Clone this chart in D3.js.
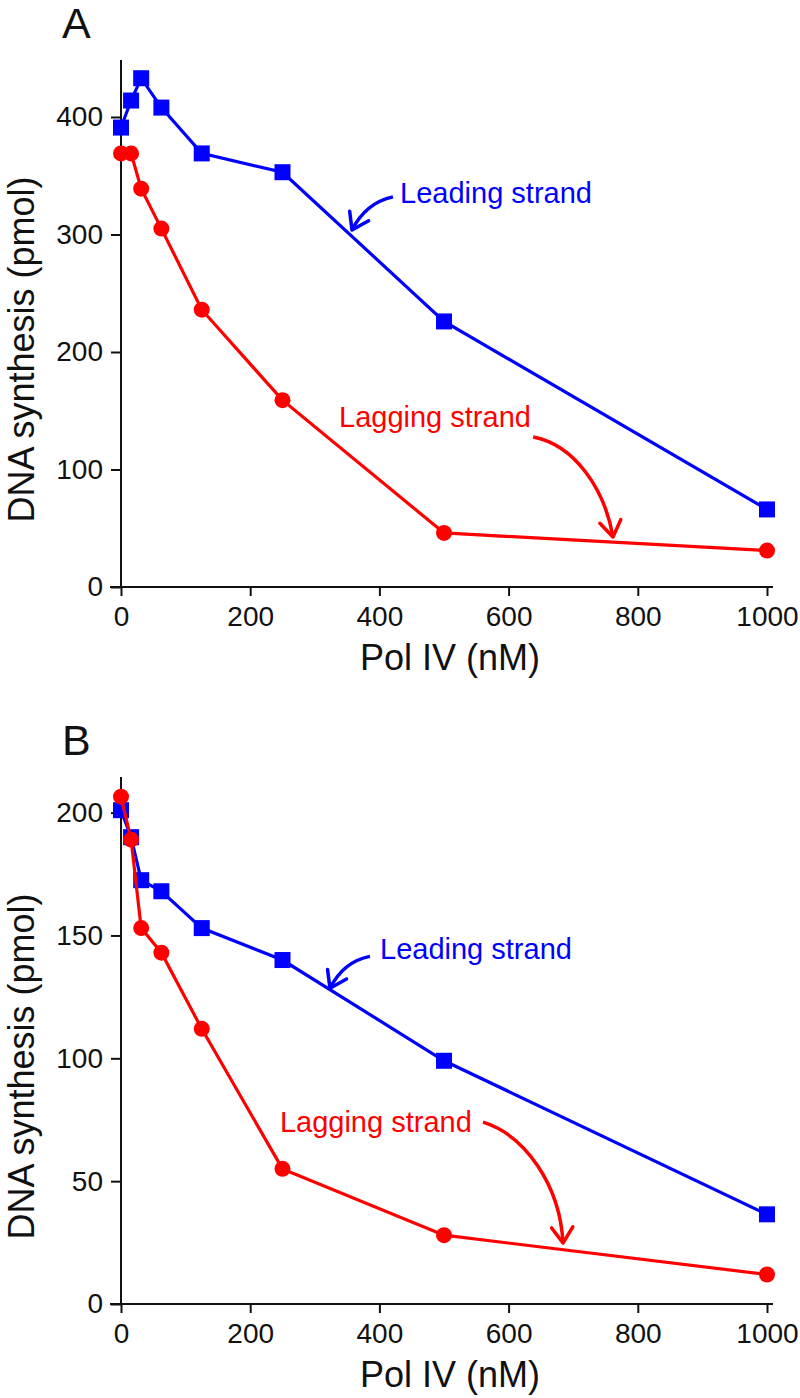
<!DOCTYPE html>
<html lang="en">
  <head>
    <meta charset="utf-8">
    <title>Pol IV titration</title>
    <style>
      body { margin: 0; background: white; }
      svg { display: block; font-family: "Liberation Sans", Arial, sans-serif; }
      .axis path.domain { display: none; }
      .axis line { stroke: #111; stroke-width: 2; }
      .axis text { font-family: "Liberation Sans", Arial, sans-serif; font-size: 28px; fill: #111; }
    </style>
    <script src="https://cdn.jsdelivr.net/npm/d3@7"></script>
  </head>
  <body>
    <svg id="chart" width="800" height="1398"></svg>
    <script>
// ---- data (Pol IV in nM, DNA synthesis in pmol) ----
var conc = [0, 15.6, 31.25, 62.5, 125, 250, 500, 1000];
var xTicks = [0, 200, 400, 600, 800, 1000];

var leadingA = [391, 414, 433, 408, 369, 353, 226, 66];
var laggingA = [369, 369, 339, 305, 236, 159, 46, 31];
var yTicksA = [0, 100, 200, 300, 400];

var leadingB = [201, 190, 172.5, 168, 153, 140, 99, 36.5];
var laggingB = [206.5, 189, 153, 143, 112, 55, 28, 12];
var yTicksB = [0, 50, 100, 150, 200];

// annotation anchors, in data units
var notesA = [
  {text: "Leading strand", color: "blue", at: [432, 327],
   path: [[421, 332], [379, 327], [357.6, 303.8]]},
  {text: "Lagging strand", color: "red", at: [337.5, 136],
   path: [[638, 127.7], [703, 121], [749, 82.6], [761.6, 42.6]]}
];
var notesB = [
  {text: "Leading strand", color: "blue", at: [401, 140.3],
   path: [[385.4, 141.5], [344.3, 139.4], [323.5, 128.5]]},
  {text: "Lagging strand", color: "red", at: [246, 70],
   path: [[560.4, 74], [625.4, 68.7], [679.6, 48.4], [684.2, 24.8]]}
];

var svg = d3.select("#chart");
var blue = "#0000ff", red = "#ff0000";

function panel(letter, top, bottom, yMax, yTicks, leading, lagging, notes) {
  var x = d3.scaleLinear().domain([0, 1000]).range([121, 767]);
  var y = d3.scaleLinear().domain([0, yMax]).range([bottom, top]);
  var g = svg.append("g");

  // axes lines
  g.append("line").attr("x1", x(0)).attr("x2", x(0)).attr("y1", top).attr("y2", bottom)
    .style("stroke", "#111").style("stroke-width", 2);
  g.append("line").attr("x1", 110).attr("x2", 773).attr("y1", bottom).attr("y2", bottom)
    .style("stroke", "#111").style("stroke-width", 2);

  g.append("g").attr("class", "axis").attr("transform", "translate(0," + bottom + ")")
    .call(d3.axisBottom(x).tickValues(xTicks).tickFormat(d3.format("d"))
      .tickSize(9).tickPadding(10).tickSizeOuter(0));
  g.append("g").attr("class", "axis").attr("transform", "translate(" + x(0) + ",0)")
    .call(d3.axisLeft(y).tickValues(yTicks).tickFormat(d3.format("d"))
      .tickSize(10).tickPadding(8).tickSizeOuter(0));

  g.append("text").text(letter).attr("x", 62).attr("y", top - 22)
    .style("font-size", "43px").style("fill", "#111");
  g.append("text").text("Pol IV (nM)").attr("x", 450).attr("y", bottom + 83)
    .attr("text-anchor", "middle").style("font-size", "36px").style("fill", "#111");
  g.append("text").text("DNA synthesis (pmol)")
    .attr("transform", "translate(34," + ((top + bottom) / 2 + 26) + ") rotate(-90)")
    .attr("text-anchor", "middle").style("font-size", "36px").style("fill", "#111");

  var line = d3.line().x(function(d) { return x(d[0]); }).y(function(d) { return y(d[1]); });

  // leading strand: squares
  var lead = d3.zip(conc, leading);
  g.append("path").datum(lead).attr("d", line)
    .style("fill", "none").style("stroke", blue).style("stroke-width", 3.2);
  g.selectAll(".sq").data(lead).enter().append("rect")
    .attr("x", function(d) { return x(d[0]) - 8; })
    .attr("y", function(d) { return y(d[1]) - 8; })
    .attr("width", 16).attr("height", 16).style("fill", blue);

  // lagging strand: circles
  var lag = d3.zip(conc, lagging);
  g.append("path").datum(lag).attr("d", line)
    .style("fill", "none").style("stroke", red).style("stroke-width", 3.2);
  g.selectAll(".dot").data(lag).enter().append("circle")
    .attr("cx", function(d) { return x(d[0]); })
    .attr("cy", function(d) { return y(d[1]); })
    .attr("r", 8).style("fill", red);

  // annotations with curved arrows
  notes.forEach(function(n) {
    g.append("text").text(n.text).attr("x", x(n.at[0])).attr("y", y(n.at[1]))
      .style("font-size", "29px").style("fill", n.color);
    var p = n.path.map(function(d) { return [x(d[0]), y(d[1])]; });
    var path = d3.path();
    path.moveTo(p[0][0], p[0][1]);
    if (p.length === 3) path.quadraticCurveTo(p[1][0], p[1][1], p[2][0], p[2][1]);
    else path.bezierCurveTo(p[1][0], p[1][1], p[2][0], p[2][1], p[3][0], p[3][1]);
    g.append("path").attr("d", path.toString())
      .style("fill", "none").style("stroke", n.color).style("stroke-width", 3.5);
    var tip = p[p.length - 1], prev = p[p.length - 2];
    var ang = Math.atan2(prev[1] - tip[1], prev[0] - tip[0]);
    var len = 19, spread = 34 * Math.PI / 180;
    var head = d3.path();
    head.moveTo(tip[0] + len * Math.cos(ang - spread), tip[1] + len * Math.sin(ang - spread));
    head.lineTo(tip[0], tip[1]);
    head.lineTo(tip[0] + len * Math.cos(ang + spread), tip[1] + len * Math.sin(ang + spread));
    g.append("path").attr("d", head.toString())
      .style("fill", "none").style("stroke", n.color).style("stroke-width", 3.5)
      .style("stroke-linejoin", "round").style("stroke-linecap", "round");
  });
}

panel("A", 60, 587, 448.5, yTicksA, leadingA, laggingA, notesA);
panel("B", 777, 1304, 214.5, yTicksB, leadingB, laggingB, notesB);
    </script>
  </body>
</html>
